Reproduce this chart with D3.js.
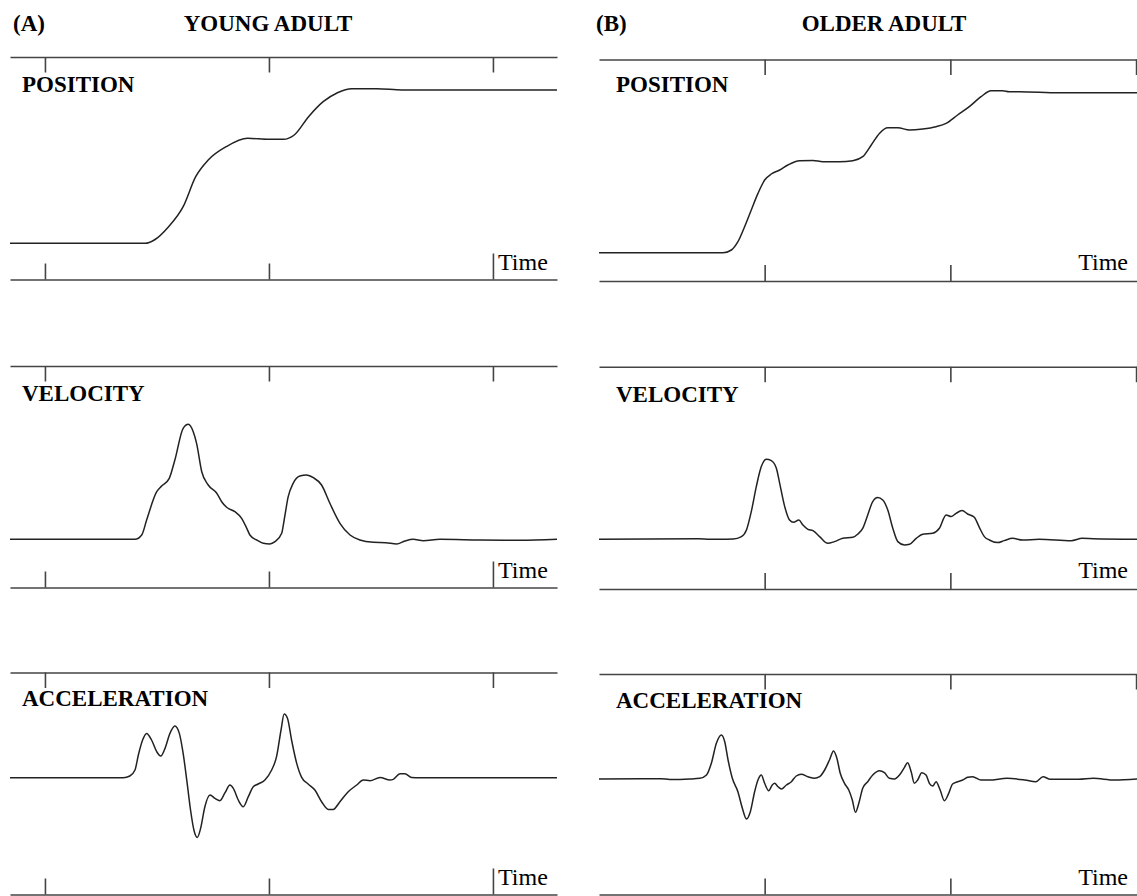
<!DOCTYPE html>
<html>
<head>
<meta charset="utf-8">
<script src="https://cdnjs.cloudflare.com/ajax/libs/d3/7.8.5/d3.min.js"></script>
<style>
  body { margin: 0; background: #fff; }
  svg { display: block; }
  .frame path.domain, .frame line { stroke: #444; stroke-width: 1.6; }
  .trace { fill: none; stroke: #222; stroke-width: 1.5; }
  .head, .name { font-family: 'Liberation Serif', 'Times New Roman', serif; font-weight: bold; font-size: 23px; fill: #000; }
  .time { font-family: 'Liberation Serif', 'Times New Roman', serif; font-size: 24px; fill: #000; }
</style>
</head>
<body>
<div id="chart"></div>
<script>
var WIDTH = 1137, HEIGHT = 896;
var UNIT_PX = 10;

var columnLetters = ['(A)', '(B)'];
var columnTitles = ['YOUNG ADULT', 'OLDER ADULT'];
var panelNames = ['POSITION', 'VELOCITY', 'ACCELERATION'];
var timeLabel = 'Time';
var tickTimes = [0, 1, 2];

// time in tick intervals, values in arbitrary units (0 = rest level)
var youngPosition = [[-0.156,0],[0.448,0],[0.488,0.33],[0.552,1.66],[0.617,3.66],[0.673,6.66],[0.729,8.33],[0.809,9.66],[0.905,10.5],[1.001,10.4],[1.065,10.4],[1.113,10.83],[1.177,12.66],[1.242,14.16],[1.306,15.06],[1.370,15.46],[1.482,15.46],[1.594,15.33],[2.286,15.33]];

var youngVelocity = [[-0.156,0],[0.335,0],[0.402,0],[0.432,0.43],[0.454,1.93],[0.499,4.76],[0.521,5.33],[0.555,6.1],[0.580,7.93],[0.617,11.1],[0.640,11.5],[0.662,10.76],[0.677,9.6],[0.700,6.76],[0.729,5.43],[0.767,4.6],[0.789,3.76],[0.811,3.2],[0.848,2.76],[0.878,2.1],[0.901,1.1],[0.915,0.43],[0.945,-0.07],[0.975,-0.4],[1.004,-0.47],[1.027,-0.24],[1.057,0.6],[1.068,1.93],[1.086,4.26],[1.108,5.6],[1.138,6.33],[1.168,6.43],[1.198,6.16],[1.235,5.43],[1.272,3.6],[1.317,1.6],[1.362,0.43],[1.406,-0.07],[1.466,-0.3],[1.522,-0.34],[1.570,-0.47],[1.607,-0.17],[1.644,0],[1.689,-0.14],[1.763,0],[1.942,-0.07],[2.121,-0.1],[2.286,0]];

var youngAcceleration = [[-0.156,0],[0.246,0],[0.350,0],[0.379,0.17],[0.402,0.77],[0.417,2.27],[0.436,3.77],[0.454,4.43],[0.476,3.77],[0.499,2.6],[0.517,2.17],[0.536,2.93],[0.558,4.43],[0.580,5.17],[0.600,4.43],[0.617,2.43],[0.635,-0.57],[0.650,-3.23],[0.665,-5.23],[0.680,-5.97],[0.695,-5.07],[0.714,-2.9],[0.737,-1.73],[0.759,-2.07],[0.781,-2.3],[0.804,-1.5],[0.826,-0.73],[0.841,-1.07],[0.863,-2.23],[0.885,-2.9],[0.908,-1.9],[0.930,-0.9],[0.952,-0.63],[0.982,-0.23],[1.012,0.77],[1.034,2.1],[1.054,4.77],[1.068,6.37],[1.083,5.93],[1.101,3.77],[1.124,1.43],[1.146,0.03],[1.175,-0.63],[1.205,-1.23],[1.235,-2.4],[1.265,-3.17],[1.287,-3.17],[1.317,-2.4],[1.354,-1.4],[1.392,-0.73],[1.421,-0.23],[1.451,-0.3],[1.496,0.03],[1.540,-0.23],[1.555,-0.17],[1.585,0.4],[1.607,0.4],[1.637,0.03],[1.674,0],[1.763,0],[2.286,0]];

var olderPosition = [[-0.892,0],[-0.349,0],[-0.224,0],[-0.179,0.27],[-0.144,1.1],[-0.108,2.6],[-0.072,4.27],[-0.036,5.93],[0,7.27],[0.036,7.87],[0.081,8.27],[0.125,8.77],[0.188,9.2],[0.260,9.23],[0.313,9.1],[0.403,9.1],[0.475,9.2],[0.528,9.6],[0.574,10.77],[0.618,11.93],[0.663,12.5],[0.717,12.5],[0.780,12.27],[0.851,12.37],[0.923,12.6],[0.977,12.93],[1.039,13.77],[1.102,14.6],[1.165,15.6],[1.219,16.2],[1.281,16.2],[1.317,16.1],[1.371,16.1],[1.586,16.0],[2.005,16.0]];

var olderVelocity = [[-0.892,0],[-0.355,0.06],[-0.296,0],[-0.242,0],[-0.170,0.03],[-0.125,0.27],[-0.098,0.93],[-0.072,2.77],[-0.045,5.27],[-0.018,7.27],[0.009,8.0],[0.036,7.87],[0.063,7.1],[0.081,5.6],[0.108,3.27],[0.134,1.93],[0.156,1.7],[0.184,1.93],[0.206,1.43],[0.233,1.0],[0.260,0.87],[0.296,0.27],[0.340,-0.4],[0.376,-0.23],[0.421,0.1],[0.475,0.2],[0.502,0.53],[0.528,1.1],[0.555,2.43],[0.582,3.77],[0.609,4.17],[0.636,3.93],[0.663,2.93],[0.690,1.1],[0.717,-0.23],[0.753,-0.57],[0.780,-0.5],[0.816,0.1],[0.851,0.5],[0.905,0.6],[0.941,1.1],[0.977,2.43],[1.004,2.27],[1.031,2.6],[1.063,2.87],[1.093,2.53],[1.129,2.2],[1.156,1.2],[1.183,0.27],[1.210,-0.07],[1.254,-0.33],[1.290,-0.13],[1.335,0.1],[1.389,-0.07],[1.478,0],[1.651,-0.14],[1.710,0.1],[1.769,0.06],[2.005,0]];

var olderAcceleration = [[-0.892,0],[-0.559,0.03],[-0.511,-0.05],[-0.403,0],[-0.349,0.07],[-0.313,0.4],[-0.287,1.57],[-0.260,3.57],[-0.233,4.4],[-0.215,3.73],[-0.197,1.9],[-0.174,0.07],[-0.144,-1.27],[-0.120,-2.93],[-0.098,-4.0],[-0.077,-3.27],[-0.054,-1.27],[-0.036,-0.1],[-0.018,0.4],[0,-0.43],[0.022,-1.17],[0.041,-0.6],[0.054,-0.43],[0.072,-0.77],[0.090,-1.0],[0.117,-0.6],[0.144,-0.27],[0.170,0.3],[0.197,0.47],[0.233,0.23],[0.269,0.07],[0.296,0.23],[0.323,0.9],[0.349,1.9],[0.371,2.8],[0.389,2.07],[0.407,0.57],[0.430,-0.43],[0.453,-1.1],[0.472,-2.1],[0.489,-3.33],[0.507,-2.43],[0.528,-0.93],[0.555,-0.27],[0.582,0.4],[0.618,0.83],[0.645,0.63],[0.672,0.07],[0.699,0],[0.726,0.4],[0.753,1.17],[0.770,1.63],[0.789,0.73],[0.806,-0.43],[0.824,-0.1],[0.846,0.63],[0.869,0.4],[0.887,-0.43],[0.905,-0.7],[0.923,-0.27],[0.945,-1.1],[0.968,-2.17],[0.991,-1.43],[1.012,-0.5],[1.039,-0.27],[1.066,-0.1],[1.093,0.17],[1.120,0.23],[1.165,-0.1],[1.210,-0.1],[1.305,0.07],[1.402,-0.1],[1.460,-0.27],[1.499,0.23],[1.538,-0.03],[1.691,-0.03],[1.769,0.07],[1.884,-0.1],[2.005,0]];

var series = [
  [youngPosition, youngVelocity, youngAcceleration],
  [olderPosition, olderVelocity, olderAcceleration]
];

// layout only
var columns = [
  {x0: 10, x1: 557, tMin: -0.156, tMax: 2.286, bottomTicks: 3, letterX: 13, titleX: 268,
   labelX: 22, timeX: 498, timeAnchor: 'start', longLastTick: true,
   rows: [{top: 57, bottom: 279.5, base: 243.3, labelY: 92, timeY: 270},
          {top: 366, bottom: 587.5, base: 539.3, labelY: 401, timeY: 578},
          {top: 672.5, bottom: 894.5, base: 777.7, labelY: 706, timeY: 885}]},
  {x0: 599, x1: 1137, tMin: -0.892, tMax: 2.005, bottomTicks: 2, letterX: 596, titleX: 884,
   labelX: 616, timeX: 1128, timeAnchor: 'end', longLastTick: false,
   rows: [{top: 59.5, bottom: 281, base: 252.7, labelY: 92, timeY: 269.5},
          {top: 366.7, bottom: 589, base: 539.3, labelY: 402, timeY: 578},
          {top: 674, bottom: 894.5, base: 779, labelY: 708, timeY: 885}]}
];

var svg = d3.select('#chart').append('svg')
  .attr('width', WIDTH).attr('height', HEIGHT);

svg.append('rect').attr('width', WIDTH).attr('height', HEIGHT).attr('fill', '#fff');

columns.forEach(function(col, c){
  var x = d3.scaleLinear().domain([col.tMin, col.tMax]).range([col.x0, col.x1]);

  svg.append('text').attr('class', 'head')
    .attr('x', col.letterX).attr('y', 31).text(columnLetters[c]);
  svg.append('text').attr('class', 'head')
    .attr('x', col.titleX).attr('y', 31).attr('text-anchor', 'middle')
    .text(columnTitles[c]);

  col.rows.forEach(function(row, r){
    var y = d3.scaleLinear()
      .domain([(row.base - row.bottom) / UNIT_PX, (row.base - row.top) / UNIT_PX])
      .range([row.bottom, row.top]);

    var topAxis = d3.axisBottom(x).tickValues(tickTimes)
      .tickSizeInner(15.5).tickSizeOuter(0).tickFormat('');
    var bottomAxis = d3.axisTop(x).tickValues(tickTimes.slice(0, col.bottomTicks))
      .tickSizeInner(16).tickSizeOuter(0).tickFormat('');

    svg.append('g').attr('class', 'frame')
      .attr('transform', 'translate(0,' + row.top + ')').call(topAxis);
    var bottomG = svg.append('g').attr('class', 'frame')
      .attr('transform', 'translate(0,' + row.bottom + ')').call(bottomAxis);

    if(col.longLastTick){
      bottomG.selectAll('.tick').filter(function(d, i){ return i == col.bottomTicks - 1; })
        .select('line').attr('y2', -26);
    }

    var line = d3.line()
      .x(function(d){ return x(d[0]); })
      .y(function(d){ return y(d[1]); })
      .curve(d3.curveMonotoneX);

    svg.append('path').datum(series[c][r])
      .attr('class', 'trace').attr('d', line);

    svg.append('text').attr('class', 'name')
      .attr('x', col.labelX).attr('y', row.labelY).text(panelNames[r]);
    svg.append('text').attr('class', 'time')
      .attr('x', col.timeX).attr('y', row.timeY)
      .attr('text-anchor', col.timeAnchor).text(timeLabel);
  });
});
</script>
</body>
</html>
